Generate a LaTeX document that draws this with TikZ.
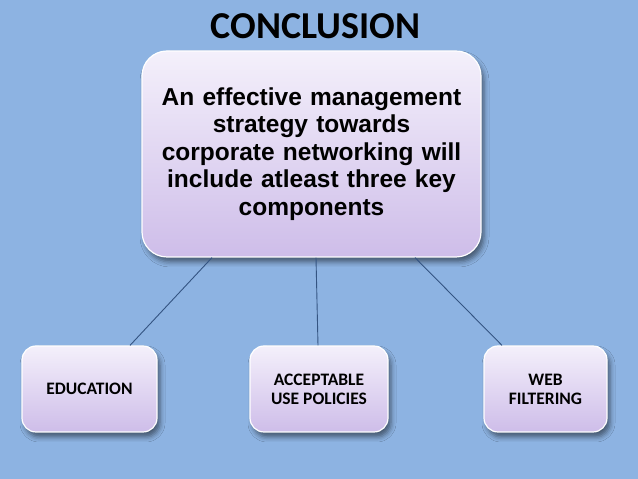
\documentclass[tikz,border=0pt]{standalone}
\usepackage{fontspec}
\setmainfont{Carlito}
\newfontfamily\arialfont{Liberation Sans}
\usetikzlibrary{shadows.blur}

\definecolor{bgblue}{RGB}{141,179,226}
\definecolor{boxtop}{RGB}{244,240,251}
\definecolor{boxmid}{RGB}{226,214,242}
\definecolor{boxbot}{RGB}{206,189,233}
\definecolor{linkblue}{RGB}{52,84,130}

\begin{document}
\begin{tikzpicture}[x=1pt, y=1pt,
  box/.style={draw=white, line width=1.2pt, rounded corners=14pt,
    top color=boxtop, middle color=boxmid, bottom color=boxbot,
    blur shadow={shadow xshift=3pt, shadow yshift=-5pt,
      shadow blur radius=5pt, shadow opacity=50},
    align=center, inner sep=2pt},
  link/.style={linkblue, line width=0.9pt}]
  % Background
  \fill[bgblue] (0,0) rectangle (638,479);
  \useasboundingbox (0,0) rectangle (638,479);

  % Title
  \node[font=\bfseries\fontsize{38}{40}\selectfont] (title) at (315.5,453) {CONCLUSION};

  % Main statement
  \node[box, rounded corners=25pt, minimum width=339pt, minimum height=206pt,
        text width=330pt,
        font=\arialfont\bfseries\fontsize{24.5}{27.5}\selectfont] (main) at (311.5,325)
    {An effective management\\ strategy towards\\ corporate networking will\\
     include atleast three key\\ components};

  % Key components
  \foreach \name/\xc/\bw/\txt in {edu/89.5/135/EDUCATION,
      aup/319/138/{ACCEPTABLE\\USE POLICIES}, web/545.5/123/{WEB\\FILTERING}}{
    \node[box, minimum width=\bw pt, minimum height=86pt,
          font=\bfseries\fontsize{17.5}{19}\selectfont] (\name) at (\xc,90) {\txt};
  }

  % Connectors
  \draw[link] ([xshift=-99.5pt]main.south) -- ([xshift=40.5pt]edu.north);
  \draw[link] ([xshift=4.5pt]main.south) -- ([xshift=-1pt]aup.north);
  \draw[link] ([xshift=103.5pt]main.south) -- ([xshift=-43.5pt]web.north);
\end{tikzpicture}
\end{document}
